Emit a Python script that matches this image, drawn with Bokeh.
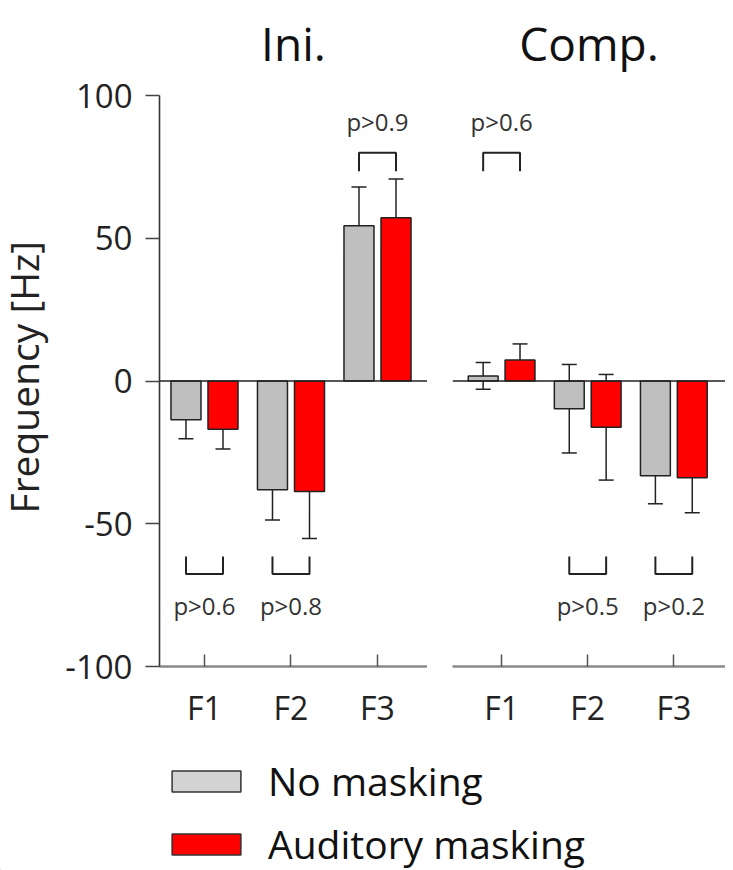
import math
from bokeh.plotting import figure
from bokeh.models import (Range1d, FixedTicker, Span, Whisker, TeeHead,
                          ColumnDataSource, Label, Legend, LegendItem)
from bokeh.layouts import column, row
from bokeh.embed import file_html
from bokeh.resources import INLINE
from bokeh.core.properties import value

# ---------------- data ----------------
formants = ["F1", "F2", "F3"]
panel_titles = ["Ini.", "Comp."]
series_names = ["No masking", "Auditory masking"]
y_title = "Frequency [Hz]"

ini_no_mask = [-13.6, -38.1, 54.4]
ini_no_mask_err = [6.6, 10.6, 13.6]
ini_mask = [-16.9, -38.7, 57.2]
ini_mask_err = [6.9, 16.5, 13.6]

comp_no_mask = [1.8, -9.7, -33.2]
comp_no_mask_err = [4.7, 15.5, 9.8]
comp_mask = [7.4, -16.2, -33.9]
comp_mask_err = [5.6, 18.5, 12.2]

ini_p = ["p>0.6", "p>0.8", "p>0.9"]
comp_p = ["p>0.6", "p>0.5", "p>0.2"]
ini_p_side = ["below", "below", "above"]
comp_p_side = ["above", "below", "below"]

y_ticks = [-100, -50, 0, 50, 100]
y_tick_labels = ["-100", "-50", "0", "50", "100"]

# ---------------- style ----------------
FONT = "Open Sans"
GRAY = "#bfbfbf"
GRAY_LEG = "#d3d3d3"
RED = "#ff0000"
INK = "#222222"
OFF = 0.214
BW = 0.347
Y_MIN, Y_MAX, Y_TOP = -100, 100, 133.3
FIG_H = 740
BORDER_B = 74
LABEL_W = 60


def make_panel(title, nm, nm_err, m, m_err, pvals, sides, x_start, x_end,
               width, border_left, show_y):
    p = figure(width=width, height=FIG_H, output_backend="svg",
               toolbar_location=None,
               x_range=Range1d(x_start, x_end), y_range=Range1d(Y_MIN, Y_TOP),
               min_border_left=border_left, min_border_right=0,
               min_border_top=0, min_border_bottom=BORDER_B,
               y_axis_location="left" if show_y else None)
    p.outline_line_color = None
    p.xgrid.visible = False
    p.ygrid.visible = False
    p.background_fill_color = "white"
    p.border_fill_color = "white"

    idx = [i + 1 for i in range(len(formants))]
    xg = [i - OFF for i in idx]
    xr = [i + OFF for i in idx]

    p.add_layout(Span(location=0, dimension="width", line_color=INK,
                      line_width=1.6))

    src_g = ColumnDataSource(dict(x=xg, top=nm,
                                  up=[v + e for v, e in zip(nm, nm_err)],
                                  lo=[v - e for v, e in zip(nm, nm_err)]))
    src_r = ColumnDataSource(dict(x=xr, top=m,
                                  up=[v + e for v, e in zip(m, m_err)],
                                  lo=[v - e for v, e in zip(m, m_err)]))
    p.vbar(x="x", top="top", bottom=0, width=BW, source=src_g,
           fill_color=GRAY, line_color=INK, line_width=1.5)
    p.vbar(x="x", top="top", bottom=0, width=BW, source=src_r,
           fill_color=RED, line_color=INK, line_width=1.5)
    for src in (src_g, src_r):
        w = Whisker(base="x", upper="up", lower="lo", source=src,
                    line_color=INK, line_width=1.5,
                    upper_head=TeeHead(size=15, line_color=INK, line_width=1.5),
                    lower_head=TeeHead(size=15, line_color=INK, line_width=1.5))
        p.add_layout(w)

    # significance brackets
    bxs, bys, tx, ty, tt = [], [], [], [], []
    for i, s in enumerate(sides):
        if s == "above":
            yb, ye, yt = 80, 73.5, 91
        else:
            yb, ye, yt = -67.6, -61.5, -78.5
        bxs.append([xg[i], xg[i], xr[i], xr[i]])
        bys.append([ye, yb, yb, ye])
        tx.append(idx[i])
        ty.append(yt)
        tt.append(pvals[i])
    p.multi_line(xs=bxs, ys=bys, line_color=INK, line_width=2)
    p.text(x=tx, y=ty, text=tt, text_align="center", text_baseline="middle",
           text_font=value(FONT), text_font_size="24px", text_color="#333333")

    # x axis
    p.xaxis.ticker = FixedTicker(ticks=idx)
    p.xaxis.major_label_overrides = {i: f for i, f in zip(idx, formants)}
    p.xaxis.minor_tick_line_color = None
    p.xaxis.major_tick_in = 12
    p.xaxis.major_tick_out = 0
    p.xaxis.major_tick_line_color = "#555555"
    p.xaxis.major_tick_line_width = 1.5
    p.xaxis.axis_line_color = "#8a8a8a"
    p.xaxis.axis_line_width = 2.5
    p.xaxis.major_label_standoff = 19
    p.xaxis.major_label_text_font = FONT
    p.xaxis.major_label_text_font_size = "32px"
    p.xaxis.major_label_text_color = INK

    if show_y:
        p.yaxis.ticker = FixedTicker(ticks=y_ticks)
        p.yaxis.major_label_overrides = dict(zip(y_ticks, y_tick_labels))
        p.yaxis.bounds = (Y_MIN, Y_MAX)
        p.yaxis.minor_tick_line_color = None
        p.yaxis.major_tick_in = 0
        p.yaxis.major_tick_out = 14
        p.yaxis.major_tick_line_color = "#444444"
        p.yaxis.major_tick_line_width = 1.5
        p.yaxis.axis_line_color = "#333333"
        p.yaxis.axis_line_width = 1.6
        p.yaxis.major_label_standoff = 13
        p.yaxis.major_label_text_font = FONT
        p.yaxis.major_label_text_font_size = "33px"
        p.yaxis.major_label_text_color = INK

    p.add_layout(Label(x=(x_start + x_end) / 2, y=Y_MAX, y_offset=53,
                       text=title, text_align="center",
                       text_baseline="alphabetic", text_font=FONT,
                       text_font_size="46px", text_color="#111111"))
    return p


# narrow strip carrying the rotated y-axis title (its frame is aligned with
# the panels' frames, so screen y is measured from the frame bottom)
yl = figure(width=LABEL_W, height=FIG_H, output_backend="svg",
            toolbar_location=None, x_range=Range1d(0, 1), y_range=Range1d(0, 1),
            x_axis_location=None, y_axis_location=None,
            min_border_left=0, min_border_right=0, min_border_top=0,
            min_border_bottom=BORDER_B)
yl.outline_line_color = None
yl.xgrid.visible = False
yl.ygrid.visible = False
yl.add_layout(Label(x=23, y=FIG_H - BORDER_B - 513, x_units="screen",
                    y_units="screen",
                    angle=math.pi / 2, text=y_title, text_align="left",
                    text_baseline="alphabetic", text_font=FONT,
                    text_font_size="39px", text_color=INK))

left = make_panel(panel_titles[0], ini_no_mask, ini_no_mask_err, ini_mask,
                  ini_mask_err, ini_p, ini_p_side, 0.48, 3.578,
                  427 - LABEL_W, 159 - LABEL_W, True)
right = make_panel(panel_titles[1], comp_no_mask, comp_no_mask_err, comp_mask,
                   comp_mask_err, comp_p, comp_p_side, 0.43, 3.60, 298, 25,
                   False)

# legend panel (proxy renderers lie outside the visible range)
lf = figure(width=725, height=130, output_backend="svg", toolbar_location=None,
            x_range=Range1d(0, 1), y_range=Range1d(0, 1),
            x_axis_location=None, y_axis_location=None,
            min_border=0)
lf.outline_line_color = None
lf.xgrid.visible = False
lf.ygrid.visible = False
lg_g = lf.vbar(x=[-5], top=[-5], bottom=[-6], width=0.1, fill_color=GRAY_LEG,
               line_color="#333333", line_width=1.5)
lg_r = lf.vbar(x=[-5], top=[-5], bottom=[-6], width=0.1, fill_color=RED,
               line_color="#333333", line_width=1.5)
legend = Legend(items=[LegendItem(label=series_names[0], renderers=[lg_g]),
                       LegendItem(label=series_names[1], renderers=[lg_r])],
                location=(163, 0), orientation="vertical",
                glyph_width=86, glyph_height=26, label_standoff=19,
                spacing=10, padding=0, margin=0,
                label_text_font=FONT, label_text_font_size="39px",
                label_text_color="#111111",
                border_line_alpha=0, background_fill_alpha=0)
lf.add_layout(legend)

layout = column(row(yl, left, right), lf)
open("out.html", "w").write(file_html(layout, INLINE))
